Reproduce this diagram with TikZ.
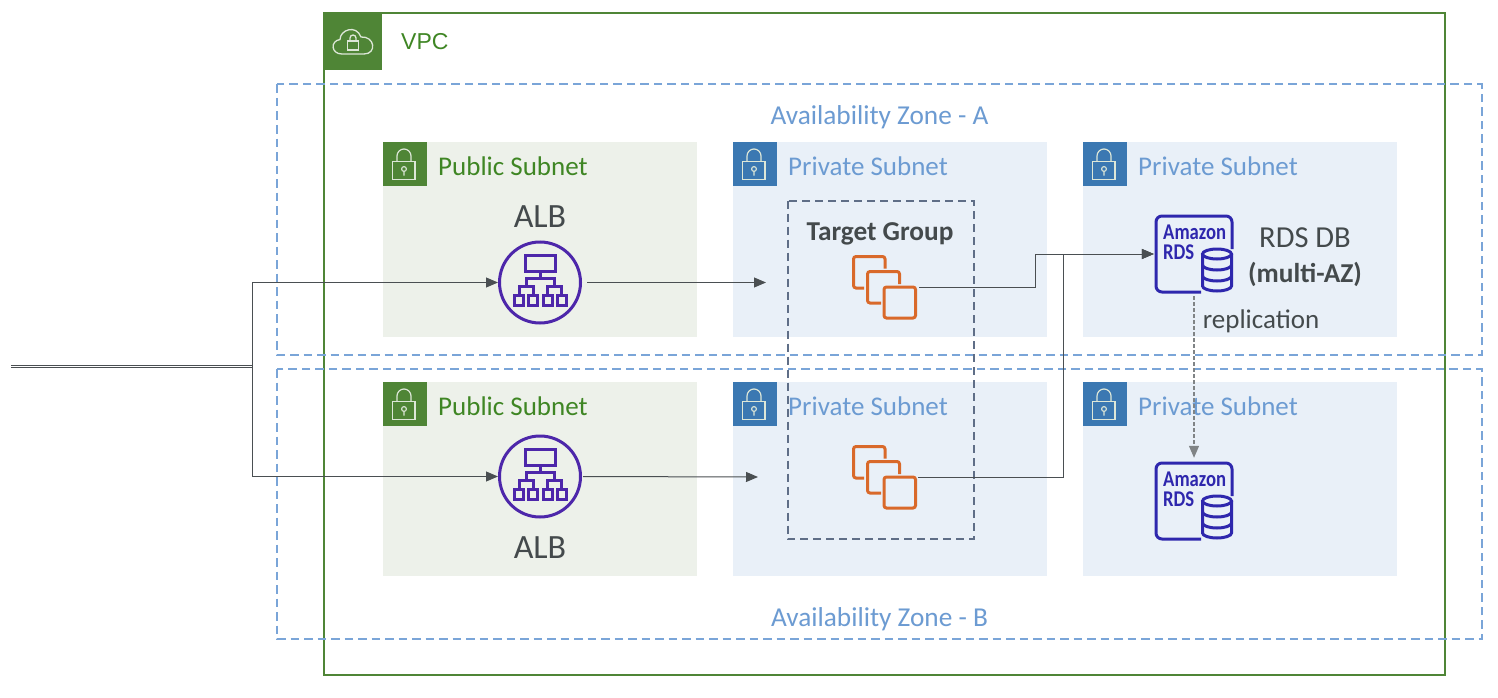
\documentclass[tikz,border=0pt]{standalone}
\usepackage{fontspec}
\setmainfont{Carlito}
\newfontfamily\arialfont{Liberation Sans}
\usetikzlibrary{arrows.meta}
\definecolor{vpcgreen}{HTML}{4F8536}
\definecolor{pubtext}{HTML}{3F8624}
\definecolor{pubfill}{HTML}{EDF1EA}
\definecolor{privfill}{HTML}{E9F0F8}
\definecolor{privicon}{HTML}{3B78B2}
\definecolor{bluetext}{HTML}{6C9BD2}
\definecolor{zoneblue}{HTML}{7AA5D8}
\definecolor{groupdash}{HTML}{5F6E87}
\definecolor{inktext}{HTML}{444A4C}
\definecolor{albpurple}{HTML}{4D27AA}
\definecolor{rdsblue}{HTML}{2E27AD}
\definecolor{ec2orange}{HTML}{D9692A}
\definecolor{wire}{HTML}{4A4F52}
\definecolor{iconline}{HTML}{DDE7D8}
\tikzset{
  zonebox/.style={draw=zoneblue,line width=2pt,dash pattern=on 8.5pt off 5pt},
  vpcbox/.style={draw=vpcgreen,line width=2pt},
  pubnet/.style={fill=pubfill},
  privnet/.style={fill=privfill},
  pubtag/.style={fill=vpcgreen},
  privtag/.style={fill=privicon},
  zonelabel/.style={text=bluetext,font=\fontsize{27.3}{30}\selectfont,inner sep=0pt},
  publabel/.style={text=pubtext,font=\fontsize{27}{30}\selectfont,anchor=west,inner sep=0pt},
  privlabel/.style={text=bluetext,font=\fontsize{27}{30}\selectfont,anchor=west,inner sep=0pt},
  alblabel/.style={text=inktext,font=\fontsize{34}{36}\selectfont,inner sep=0pt},
  dblabel/.style={text=inktext,font=\fontsize{30.5}{33}\selectfont,inner sep=0pt},
  boldlabel/.style={text=inktext,font=\fontsize{27.3}{30}\selectfont\bfseries,inner sep=0pt},
  smalllabel/.style={text=inktext,font=\fontsize{27}{30}\selectfont,inner sep=0pt},
  groupbox/.style={draw=groupdash,line width=2pt,dash pattern=on 8pt off 5pt},
  albcircle/.style={circle,draw=albpurple,line width=3pt,minimum size=81pt,inner sep=0pt},
  ec2square/.style={draw=ec2orange,line width=3pt,rounded corners=2.5pt},
  rdsnode/.style={minimum width=76pt,minimum height=76pt,inner sep=0pt},
  wireline/.style={draw=wire,line width=1pt,-{Triangle[length=12pt,width=10pt]}},
  plainwire/.style={draw=wire,line width=1pt},
  pics/locktag/.style={code={
    \draw[iconline,line width=1.2pt] (-10.5,-3.5) rectangle (12,14.5);
    \draw[iconline,line width=1.2pt] (-6,-3.5) -- (-6,-9) arc[start angle=180,end angle=360,x radius=7,y radius=7] -- (8,-3.5);
    \draw[iconline,line width=1.1pt] (1,4) circle (2.4) (1,6.4) -- (1,10.5);
  }},
  pics/albtree/.style={code={
    \begin{scope}[draw=albpurple,line width=3pt]
    \draw (-15,-27) rectangle (15,-11);
    \draw (0,-11) -- (0,-4) (-14,4) -- (-14,-4) -- (14,-4) -- (14,4);
    \draw (-21,13) -- (-21,4) -- (-7,4) -- (-7,13);
    \draw (7,13) -- (7,4) -- (21,4) -- (21,13);
    \draw (-26,13) rectangle (-17,23);
    \draw (-12,13) rectangle (-3,23);
    \draw (3,13) rectangle (12,23);
    \draw (17,13) rectangle (26,23);
    \end{scope}
  }},
  pics/ec2stack/.style={code={
    \draw[ec2square] (-21,1) -- (-31.5,1) -- (-31.5,-30.5) -- (0,-30.5) -- (0,-18.5);
    \draw[ec2square] (14.5,-3) -- (14.5,-15.5) -- (-17.5,-15.5) -- (-17.5,16) -- (-4,16);
    \draw[ec2square] (-1,0) rectangle (30.5,31);
  }},
  pics/rdsicon/.style={code={
    \draw[rdsblue,line width=3pt,rounded corners=6pt] (7,38) -- (-38,38) -- (-38,-38) -- (38,-38) -- (38,-5);
    \node[text=rdsblue,font=\fontsize{22.5}{23}\selectfont\bfseries,inner sep=0pt,anchor=west] at (-31,-22) {\scalebox{0.83}[1]{Amazon}};
    \node[text=rdsblue,font=\fontsize{22.5}{23}\selectfont\bfseries,inner sep=0pt,anchor=west] at (-31,-2) {\scalebox{0.83}[1]{RDS}};
    \begin{scope}[draw=rdsblue,line width=3pt]
    \draw[fill=privfill] (23,0) ellipse (14.5 and 5);
    \draw (8.5,0) -- (8.5,32) arc[start angle=180,end angle=0,x radius=14.5,y radius=5] -- (37.5,0);
    \draw (8.5,11) arc[start angle=180,end angle=0,x radius=14.5,y radius=5];
    \draw (8.5,22) arc[start angle=180,end angle=0,x radius=14.5,y radius=5];
    \end{scope}
  }},
}
\begin{document}
\begin{tikzpicture}[x=1pt,y=-1pt]
\path[use as bounding box,fill=white] (0,0) rectangle (1498,698);
% subnets
\fill[pubnet] (383,142) rectangle (697,337);
\fill[privnet] (733,142) rectangle (1047,337);
\fill[privnet] (1083,142) rectangle (1397,337);
\fill[pubnet] (383,382) rectangle (697,576);
\fill[privnet] (733,382) rectangle (1047,576);
\fill[privnet] (1083,382) rectangle (1397,576);
% VPC
\draw[vpcbox] (324,13) rectangle (1444.5,675);
\fill[pubtag] (324,13) rectangle (382,70.5);
\draw[iconline,line width=1.3pt] (342,54) .. controls (331,54) and (330,41) .. (340,39.5)
  .. controls (340,30) and (356,24) .. (361,37) .. controls (375,36) and (377,54) .. (364,54) -- cycle;
\draw[iconline,line width=1.3pt] (347.5,41) rectangle (358.5,50);
\draw[iconline,line width=1.3pt] (350,41) -- (350,38) arc[start angle=180,end angle=360,x radius=3,y radius=3] -- (356,41);
\node[text=pubtext,font=\arialfont\fontsize{23}{26}\selectfont,anchor=west,inner sep=0pt] (vpclabel) at (401,42) {VPC};
% zones
\draw[zonebox] (277,84.5) rectangle (1481.5,355);
\draw[zonebox] (277,369) rectangle (1481.5,639);
\node[zonelabel] (zoneA) at (879.5,117) {Availability Zone - A};
\node[zonelabel] (zoneB) at (879.5,619) {Availability Zone - B};
% subnet tags
\foreach \tx/\ty/\tagstyle in {383/142/pubtag,733/142/privtag,1083/142/privtag,383/382/pubtag,733/382/privtag,1083/382/privtag}{
  \fill[\tagstyle] (\tx,\ty) rectangle ++(44,44);
  \pic at (\tx+20,\ty+23) {locktag};
}
\node[publabel] (pubA) at (438,166) {Public Subnet};
\node[privlabel] (privA) at (788,166) {Private Subnet};
\node[privlabel] (privA2) at (1138,166) {Private Subnet};
\node[publabel] (pubB) at (438,406) {Public Subnet};
\node[privlabel] (privB) at (788,406) {Private Subnet};
\node[privlabel] (privB2) at (1138,406) {Private Subnet};
% icons
\node[albcircle] (albA) at (540,282.5) {};
\pic at (albA.center) {albtree};
\node[albcircle] (albB) at (540,476.5) {};
\pic at (albB.center) {albtree};
\node[alblabel] (albAtext) at (540,217) {ALB};
\node[alblabel] (albBtext) at (540,547.5) {ALB};
\node[inner sep=0pt,minimum width=64pt,minimum height=62pt] (ec2A) at (885,287) {};
\pic at (ec2A.center) {ec2stack};
\node[inner sep=0pt,minimum width=64pt,minimum height=62pt] (ec2B) at (885,477) {};
\pic at (ec2B.center) {ec2stack};
\node[rdsnode] (rdsA) at (1194,254) {};
\pic at (rdsA.center) {rdsicon};
\node[rdsnode] (rdsB) at (1194,501) {};
\pic at (rdsB.center) {rdsicon};
% target group
\draw[groupbox] (787.5,200.5) rectangle (973.5,539);
\node[boldlabel] (tg) at (880,233.5) {Target Group};
% labels
\node[dblabel] (rdstext) at (1305,238) {RDS DB};
\node[boldlabel] (multiaz) at (1305,274) {(multi-AZ)};
\node[smalllabel] (repl) at (1261,321) {replication};
% connectors
\coordinate (src) at (11,366.5);
\coordinate (hub) at (252,366.5);
\coordinate (tgtA) at (766,282.5);
\coordinate (tgtB) at (758,477);
\draw[plainwire,double=white,double distance=0.8pt,line width=0.8pt] (src) -- (hub);
\draw[wireline] (hub) |- (albA.west);
\draw[wireline] (hub) |- (albB.west);
\draw[wireline,shorten <=5pt] (albA.east) -- (tgtA);
\draw[wireline,shorten <=1pt] (albB.east) -- (tgtB);
\coordinate (elbowA) at (1035,287.5);
\coordinate (elbowAup) at (1035,254);
\coordinate (elbowB) at (1063,477.5);
\draw[wireline,shorten >=2pt] (ec2A.east) ++(2,0.5) -- (elbowA) -- (elbowAup) -- (rdsA.west);
\draw[wireline,shorten >=2pt] (ec2B.east) ++(1,0.5) -- (elbowB) |- (rdsA.west);
\draw[draw=wire!70,line width=1.1pt,dash pattern=on 3.5pt off 2.5pt,-{Triangle[length=12pt,width=10pt]}] (rdsA.south) ++(0,4) -- ([yshift=5pt]rdsB.north);
\end{tikzpicture}
\end{document}
